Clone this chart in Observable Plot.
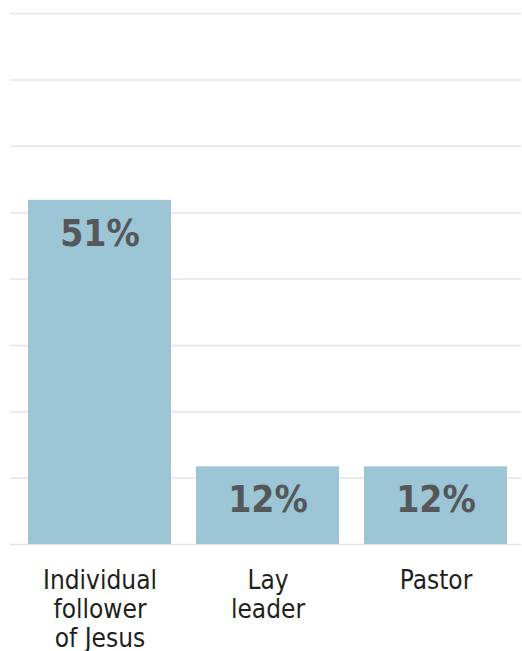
<!DOCTYPE html>
<html>
<head>
<meta charset="utf-8">
<script src="https://cdn.jsdelivr.net/npm/d3@7"></script>
<script src="https://cdn.jsdelivr.net/npm/@observablehq/plot@0.6"></script>
<style>
  html, body { margin: 0; padding: 0; background: #fff; }
  #chart svg { display: block; }
</style>
</head>
<body>
<div id="chart"></div>
<script>
// Data
const categories = ["Individual\nfollower\nof Jesus", "Lay\nleader", "Pastor"];
const values = [51.4, 11.6, 11.6];
const valueLabels = ["51%", "12%", "12%"];
const yMax = 79.3;
const gridCount = 8;

const data = categories.map((c, i) => ({cat: c, value: values[i], label: valueLabels[i]}));
const gridTicks = d3.range(0, gridCount + 1).map(i => i * yMax / gridCount);

const font = "'DejaVu Sans Condensed', 'DejaVu Sans', sans-serif";

const chart = Plot.plot({
  width: 522,
  height: 651,
  marginTop: 13,
  marginBottom: 107,
  marginLeft: 10,
  marginRight: 1,
  style: {fontFamily: font, background: "#fff", fontStretch: "condensed"},
  x: {domain: categories, paddingInner: 0.148, paddingOuter: 0.086, align: 0.55, axis: null},
  y: {domain: [0, yMax], axis: null},
  marks: [
    Plot.ruleY(gridTicks, {stroke: "#e7e4e1", strokeWidth: 1.5}),
    Plot.barY(data, {x: "cat", y: "value", fill: "#9cc5d6"}),
    Plot.text(data, {x: "cat", y: "value", text: "label", lineAnchor: "top", dy: 19,
      fontSize: 37, fontWeight: "bold", fill: "#555759"}),
    Plot.text(data, {x: "cat", text: "cat", frameAnchor: "bottom", lineAnchor: "top", dy: 24.5,
      lineHeight: 1.1, fontSize: 26, fill: "#231f20"})
  ]
});
document.getElementById("chart").appendChild(chart);
</script>
</body>
</html>
